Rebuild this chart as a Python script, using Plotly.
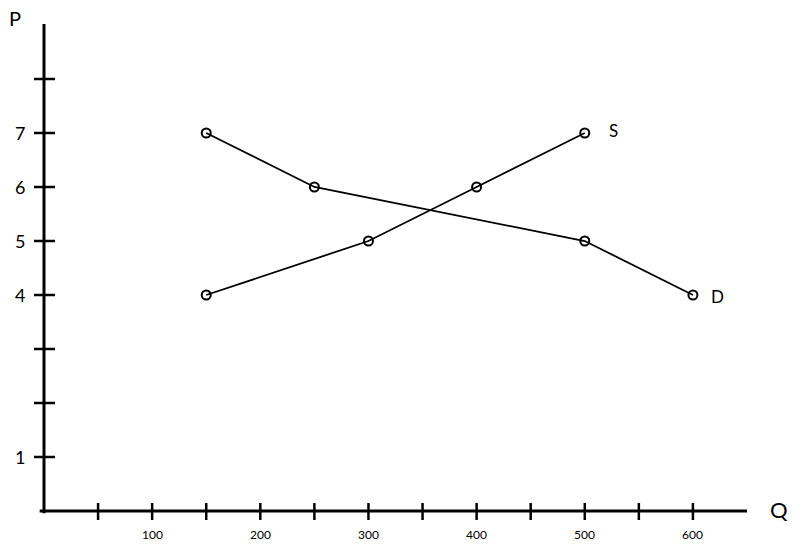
import plotly.graph_objects as go

# Data
supply_q = [150, 300, 400, 500]
supply_p = [4, 5, 6, 7]
demand_q = [150, 250, 500, 600]
demand_p = [7, 6, 5, 4]

x_tick_marks = [50, 100, 150, 200, 250, 300, 350, 400, 450, 500, 550, 600]
x_tick_labels = [100, 200, 300, 400, 500, 600]
y_tick_marks = [1, 2, 3, 4, 5, 6, 7, 8]
y_tick_labels = [1, 4, 5, 6, 7]
x_axis_max = 650
y_axis_max = 9.02

FONT = "Lato"
W, H = 804, 549
X0_PX, Y0_PX = 44, 511          # pixel position of the origin
X_SCALE = 703 / 650             # px per Q unit
Y_SCALE = 54                    # px per P unit

fig = go.Figure()
for q, p, name in [(supply_q, supply_p, "S"), (demand_q, demand_p, "D")]:
    fig.add_trace(go.Scatter(
        x=q, y=p, mode="lines+markers", name=name,
        line=dict(color="black", width=1.8),
        marker=dict(symbol="circle-open", size=9, color="black", line=dict(width=2)),
        showlegend=False,
    ))

shapes = [
    # axes
    dict(type="line", xref="x", yref="y", x0=-4, x1=x_axis_max, y0=0, y1=0,
         line=dict(color="black", width=3)),
    dict(type="line", xref="x", yref="y", x0=0, x1=0, y0=-0.04, y1=y_axis_max,
         line=dict(color="black", width=3)),
]
for v in x_tick_marks:
    shapes.append(dict(type="line", xref="x", yref="y", ysizemode="pixel", yanchor=0,
                       x0=v, x1=v, y0=-9, y1=8, line=dict(color="black", width=2.5)))
for v in y_tick_marks:
    shapes.append(dict(type="line", xref="x", yref="y", xsizemode="pixel", xanchor=0,
                       y0=v, y1=v, x0=-10, x1=11, line=dict(color="black", width=2.5)))

annotations = []
for v in x_tick_labels:
    annotations.append(dict(x=v, y=0, text=str(v), showarrow=False, yshift=-23,
                            font=dict(size=12, color="black", family=FONT)))
for v in y_tick_labels:
    annotations.append(dict(x=0, y=v, text=str(v), showarrow=False, xshift=-24,
                            font=dict(size=18, color="black", family=FONT)))
annotations += [
    dict(x=527, y=7.05, text="S", showarrow=False, font=dict(size=17, color="black", family=FONT)),
    dict(x=623, y=3.97, text="D", showarrow=False, font=dict(size=17, color="black", family=FONT)),
    dict(x=-27, y=9.13, text="P", showarrow=False, font=dict(size=20, color="black", family=FONT)),
    dict(x=680, y=0.03, text="Q", showarrow=False, font=dict(size=22, color="black", family=FONT)),
]

fig.update_layout(
    width=W, height=H,
    margin=dict(l=0, r=0, t=0, b=0),
    paper_bgcolor="white", plot_bgcolor="white",
    shapes=shapes, annotations=annotations,
    xaxis=dict(range=[-X0_PX / X_SCALE, (W - X0_PX) / X_SCALE], visible=False, fixedrange=True),
    yaxis=dict(range=[-(H - Y0_PX) / Y_SCALE, Y0_PX / Y_SCALE], visible=False, fixedrange=True),
    hovermode=False,
)

fig.write_html("out.html", config={"displayModeBar": False, "staticPlot": True})

# remove the browser's default page margin so the figure sits at the window origin
with open("out.html", "r", encoding="utf-8") as f:
    html = f.read()
html = html.replace("<body>", '<body style="margin:0;overflow:hidden">', 1)
with open("out.html", "w", encoding="utf-8") as f:
    f.write(html)
